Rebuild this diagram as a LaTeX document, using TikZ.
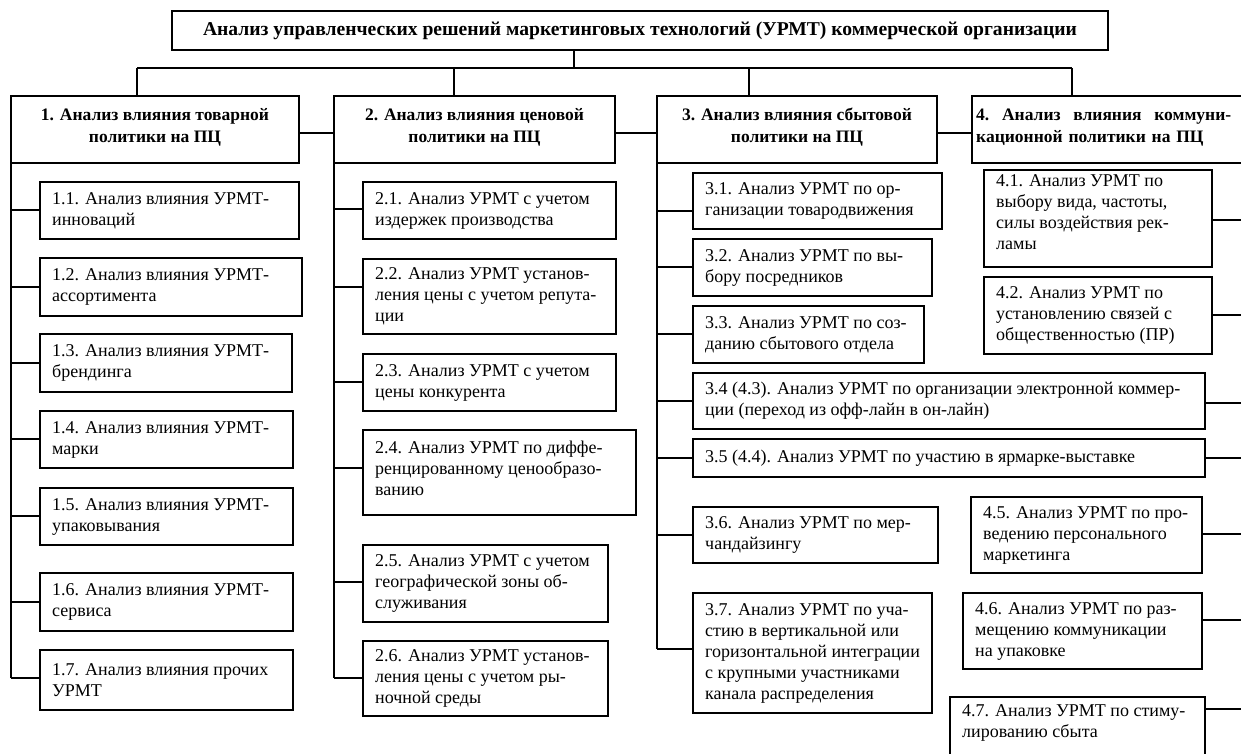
\documentclass[tikz,border=0pt]{standalone}
\usepackage{fontspec}
\setmainfont{Liberation Serif}
% boxed item: [text shift]{name}{x}{y}{width}{height}{text}
\newcommand\ubox[7][0]{%
  \node[frame, minimum width=#5pt, minimum height=#6pt] (#2) at (#3,#4) {};
  \node[body, yshift=#1pt] (#2-t) at ([xshift=12pt]#2.west) {#7};}
% branch from a trunk at x=#1 to the left side of box #2 at height #3
\newcommand\tapL[3]{\draw[wire] (#1,#3) -- (#2.west |- 0,#3);}
% branch from the right side of box #1 to the right trunk at height #2
\newcommand\tapR[2]{\draw[wire] (#1.east |- 0,#2) -- (rtrunk |- 0,#2);}
\begin{document}
\begin{tikzpicture}[x=1pt,y=-1pt,
  frame/.style={draw=black, line width=1.3pt, anchor=north west, inner sep=0pt, outer sep=0pt},
  body/.style={anchor=west, align=left, inner sep=0pt, font=\fontsize{18}{21}\selectfont},
  headtext/.style={align=center, inner sep=0pt, font=\bfseries\fontsize{17.5}{22}\selectfont},
  wire/.style={line width=1.1pt},
]
\useasboundingbox (0,0) rectangle (1241,753);
\clip (0,0) rectangle (1241,753);

% title
\node[frame, minimum width=936pt, minimum height=39pt] (top) at (172,11) {};
\node[headtext, font=\bfseries\fontsize{19.6}{22}\selectfont] (top-t) at (top.center)
  {Анализ управленческих решений маркетинговых технологий (УРМТ) коммерческой организации};

% policy headers
\node[frame, minimum width=288pt, minimum height=67pt] (h1) at (11,96) {};
\node[headtext] (h1-t) at ([yshift=2pt]h1.center) {1. Анализ влияния товарной\\политики на ПЦ};
\node[frame, minimum width=281pt, minimum height=67pt] (h2) at (334,96) {};
\node[headtext] (h2-t) at ([yshift=2pt]h2.center) {2. Анализ влияния ценовой\\политики на ПЦ};
\node[frame, minimum width=280pt, minimum height=67pt] (h3) at (657,96) {};
\node[headtext] (h3-t) at ([yshift=2pt]h3.center) {3. Анализ влияния сбытовой\\политики на ПЦ};
\node[frame, minimum width=300pt, minimum height=67pt] (h4) at (972,96) {};
\node[headtext, align=left, anchor=west, text width=255pt] (h4-t) at ([xshift=4pt,yshift=2pt]h4.west)
  {4.\hfill Анализ\hfill влияния\hfill коммуни-\\кационной политики на ПЦ};

% bus from the title to the headers
\coordinate (busT) at (574,68);
\coordinate (bus1) at (137,68);
\coordinate (bus2) at (454,68);
\coordinate (bus3) at (749,68);
\coordinate (bus4) at (1072,68);
\draw[wire] (busT) -- (busT |- top.south);
\draw[wire] (bus1) -- (bus4);
\draw[wire] (bus1) -- (bus1 |- h1.north);
\draw[wire] (bus2) -- (bus2 |- h2.north);
\draw[wire] (bus3) -- (bus3 |- h3.north);
\draw[wire] (bus4) -- (bus4 |- h4.north);

% links between headers
\draw[wire] (h1.east |- 0,133) -- (h2.west |- 0,133);
\draw[wire] (h2.east |- 0,133) -- (h3.west |- 0,133);
\draw[wire] (h3.east |- 0,133) -- (h4.west |- 0,133);

% column 1
\ubox{b11}{40}{182}{259}{57}{1.1. Анализ влияния УРМТ-\\инноваций}
\ubox{b12}{40}{258}{262}{58}{1.2. Анализ влияния УРМТ-\\ассортимента}
\ubox{b13}{40}{334}{252}{58}{1.3. Анализ влияния УРМТ-\\брендинга}
\ubox{b14}{40}{411}{253}{57}{1.4. Анализ влияния УРМТ-\\марки}
\ubox{b15}{40}{488}{253}{57}{1.5. Анализ влияния УРМТ-\\упаковывания}
\ubox{b16}{40}{573}{253}{58}{1.6. Анализ влияния УРМТ-\\сервиса}
\ubox{b17}{40}{650}{253}{60}{1.7. Анализ влияния прочих\\УРМТ}
\draw[wire] (h1.south west) -- (h1.south west |- 0,678);
\tapL{11}{b11}{210}
\tapL{11}{b12}{287}
\tapL{11}{b13}{363}
\tapL{11}{b14}{439}
\tapL{11}{b15}{516}
\tapL{11}{b16}{602}
\tapL{11}{b17}{678}

% column 2
\ubox{b21}{363}{182}{253}{57}{2.1. Анализ УРМТ с учетом\\издержек производства}
\ubox{b22}{363}{259}{253}{75}{2.2. Анализ УРМТ установ-\\ления цены с учетом репута-\\ции}
\ubox{b23}{363}{354}{253}{57}{2.3. Анализ УРМТ с учетом\\цены конкурента}
\ubox[4]{b24}{363}{430}{273}{85}{2.4. Анализ УРМТ по диффе-\\ренцированному ценообразо-\\ванию}
\ubox{b25}{363}{545}{245}{77}{2.5. Анализ УРМТ с учетом\\географической зоны об-\\служивания}
\ubox{b26}{363}{641}{245}{75}{2.6. Анализ УРМТ установ-\\ления цены с учетом ры-\\ночной среды}
\draw[wire] (h2.south west) -- (h2.south west |- 0,678);
\tapL{334}{b21}{209}
\tapL{334}{b22}{287}
\tapL{334}{b23}{382}
\tapL{334}{b24}{468}
\tapL{334}{b25}{582}
\tapL{334}{b26}{678}

% column 3
\ubox{b31}{693}{173}{249}{56}{3.1. Анализ УРМТ по ор-\\ганизации товародвижения}
\ubox{b32}{693}{239}{239}{57}{3.2. Анализ УРМТ по вы-\\бору посредников}
\ubox{b33}{693}{306}{231}{57}{3.3. Анализ УРМТ по соз-\\данию сбытового отдела}
\ubox{b34}{693}{373}{512}{56}{3.4 (4.3). Анализ УРМТ по организации электронной коммер-\\ции (переход из офф-лайн в он-лайн)}
\ubox{b35}{693}{439}{512}{38}{3.5 (4.4). Анализ УРМТ по участию в ярмарке-выставке}
\ubox{b36}{693}{507}{245}{56}{3.6. Анализ УРМТ по мер-\\чандайзингу}
\ubox{b37}{693}{593}{239}{120}{3.7. Анализ УРМТ по уча-\\стию в вертикальной или\\горизонтальной интеграции\\с крупными участниками\\канала распределения}
\draw[wire] (h3.south west) -- (h3.south west |- 0,649);
\tapL{657}{b31}{211}
\tapL{657}{b32}{267}
\tapL{657}{b33}{334}
\tapL{657}{b34}{401}
\tapL{657}{b35}{458}
\tapL{657}{b36}{535}
\tapL{657}{b37}{649}

% column 4 (its trunk lies past the right edge)
\coordinate (rtrunk) at (1250,0);
\ubox[6]{b41}{984}{170}{228}{97}{4.1. Анализ УРМТ по\\выбору вида, частоты,\\силы воздействия рек-\\ламы}
\ubox{b42}{984}{277}{228}{77}{4.2. Анализ УРМТ по\\установлению связей с\\общественностью (ПР)}
\ubox{b45}{971}{497}{231}{76}{4.5. Анализ УРМТ по про-\\ведению персонального\\маркетинга}
\ubox{b46}{963}{593}{239}{76}{4.6. Анализ УРМТ по раз-\\мещению коммуникации\\на упаковке}
\ubox[14]{b47}{950}{697}{255}{80}{4.7. Анализ УРМТ по стиму-\\лированию сбыта}
\tapR{b41}{220}
\tapR{b42}{315}
\tapR{b34}{403}
\tapR{b35}{458}
\tapR{b45}{534}
\tapR{b46}{620}
\tapR{b47}{709}
\end{tikzpicture}
\end{document}
